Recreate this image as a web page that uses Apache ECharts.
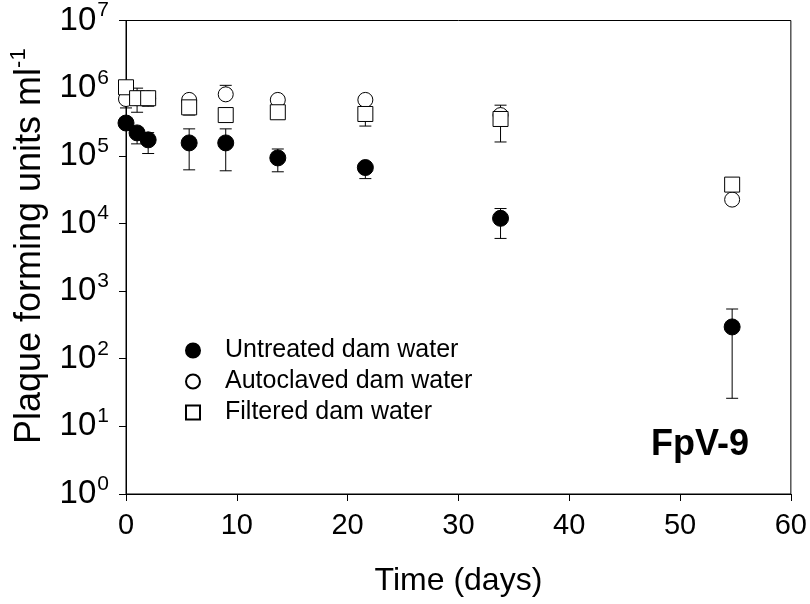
<!DOCTYPE html>
<html><head><meta charset="utf-8">
<script src="https://cdn.jsdelivr.net/npm/echarts@6/dist/echarts.min.js"></script>
<style>html,body{margin:0;padding:0;background:#fff}#c{width:810px;height:604px}</style>
</head><body><div id="c"></div>
<script>
// Data (days, PFU/ml)
const days = [0, 1, 2, 5.7, 9, 13.7, 21.6, 33.8, 54.7];
const untreated     = [3.05e5, 2.18e5, 1.72e5, 1.55e5, 1.55e5, 9.3e4, 6.7e4, 1.19e4, 295];
const untreatedLow  = [null, 1.5e5, 1.08e5, 6.2e4, 6.0e4, 5.8e4, 4.6e4, 6.0e3, 26];
const untreatedHigh = [null, 2.4e5, 2.2e5, 2.5e5, 2.5e5, 1.26e5, 7.5e4, 1.66e4, 543];
const autoclaved     = [6.9e5, 7.1e5, 7.1e5, 6.7e5, 8.1e5, 6.7e5, 6.7e5, 4.0e5, 2.25e4];
const autoclavedLow  = [5.1e5, null, null, null, null, null, null, null, null];
const autoclavedHigh = [null, null, null, null, 1.1e6, null, null, null, null];
const filtered     = [1.03e6, 7.1e5, 7.1e5, 5.2e5, 4.0e5, 4.4e5, 4.15e5, 3.5e5, 3.75e4];
const filteredLow  = [null, 4.4e5, 5.4e5, 4.0e5, null, null, 2.75e5, 1.6e5, null];
const filteredHigh = [null, 1.0e6, null, null, null, null, null, 5.6e5, null];
const seriesNames = ['Untreated dam water', 'Autoclaved dam water', 'Filtered dam water'];
const xTicks = [0, 10, 20, 30, 40, 50, 60];
const panelLabel = 'FpV-9';

const FONT = 'Liberation Sans, Arial, sans-serif';

function pts(vals) { return days.map((d, i) => [d, vals[i]]); }
function errData(vals, low, high) {
  const out = [];
  days.forEach((d, i) => {
    if (low[i] == null && high[i] == null) return;
    out.push([d, low[i] != null ? low[i] : vals[i], high[i] != null ? high[i] : vals[i], low[i] != null ? 1 : 0, high[i] != null ? 1 : 0]);
  });
  return out;
}
function errSeries(vals, low, high) {
  return {
    type: 'custom', z: 1, silent: true,
    encode: { x: 0, y: [1, 2] },
    data: errData(vals, low, high),
    renderItem: function (params, api) {
      const x = api.value(0);
      const lo = api.coord([x, api.value(1)]);
      const hi = api.coord([x, api.value(2)]);
      const w = 6;
      const st = { stroke: '#000', lineWidth: 1 };
      const ch = [{ type: 'line', shape: { x1: lo[0], y1: lo[1], x2: hi[0], y2: hi[1] }, style: st }];
      if (api.value(3)) ch.push({ type: 'line', shape: { x1: lo[0] - w, y1: lo[1], x2: lo[0] + w, y2: lo[1] }, style: st });
      if (api.value(4)) ch.push({ type: 'line', shape: { x1: hi[0] - w, y1: hi[1], x2: hi[0] + w, y2: hi[1] }, style: st });
      return { type: 'group', children: ch };
    }
  };
}

const chart = echarts.init(document.getElementById('c'));
chart.setOption({
  animation: false,
  backgroundColor: '#fff',
  textStyle: { fontFamily: FONT, color: '#000' },
  grid: { left: 124, right: 16, top: 18, bottom: 110, show: true, borderColor: '#000', borderWidth: 1 },
  title: { text: panelLabel, left: 646, top: 422, textStyle: { fontFamily: FONT, fontSize: 36, fontWeight: 'bold', color: '#000' } },
  legend: {
    orient: 'vertical', left: 180, top: 332, itemWidth: 14, itemHeight: 14, itemGap: 4,
    data: seriesNames,
    textStyle: { fontFamily: FONT, fontSize: 25, color: '#000', lineHeight: 27, padding: [0, 0, 0, 20] }
  },
  xAxis: {
    type: 'value', min: 0, max: 60, interval: 10,
    name: 'Time (days)', nameLocation: 'middle', nameGap: 71,
    nameTextStyle: { fontFamily: FONT, fontSize: 32, color: '#000' },
    axisLine: { lineStyle: { color: '#000', width: 1 } },
    axisTick: { show: true, inside: false, length: 7, lineStyle: { color: '#000' } },
    axisLabel: { fontFamily: FONT, fontSize: 29, color: '#000', margin: 17,
      formatter: v => xTicks.includes(v) ? String(v) : '' },
    splitLine: { show: false }
  },
  yAxis: {
    type: 'log', logBase: 10, min: 1, max: 1e7,
    name: 'Plaque forming units ml{s|-1}', nameLocation: 'middle', nameGap: 74, nameRotate: 90,
    nameTextStyle: { fontFamily: FONT, fontSize: 36, color: '#000', padding: [0, 0, 0, 22],
      rich: { s: { fontFamily: FONT, fontSize: 22, color: '#000', padding: [0, 0, 22, 0] } } },
    axisLine: { lineStyle: { color: '#000', width: 1 } },
    axisTick: { show: true, inside: false, length: 7, lineStyle: { color: '#000' } },
    minorTick: { show: false },
    splitLine: { show: false },
    axisLabel: {
      fontFamily: FONT, fontSize: 33, color: '#000', margin: 17,
      formatter: v => '{b|10}{s|' + Math.round(Math.log10(v)) + '}',
      rich: {
        b: { fontFamily: FONT, fontSize: 33, color: '#000' },
        s: { fontFamily: FONT, fontSize: 21, color: '#000', padding: [0, 0, 20, 1] }
      }
    }
  },
  series: [
    errSeries(untreated, untreatedLow, untreatedHigh),
    errSeries(autoclaved, autoclavedLow, autoclavedHigh),
    errSeries(filtered, filteredLow, filteredHigh),
    { name: seriesNames[0], type: 'scatter', z: 2, symbol: 'circle', symbolSize: 16, data: pts(untreated),
      itemStyle: { color: '#000', borderColor: '#000', borderWidth: 1, opacity: 1 } },
    { name: seriesNames[1], type: 'scatter', z: 3, symbol: 'circle', symbolSize: 15, data: pts(autoclaved),
      itemStyle: { color: '#fff', borderColor: '#000', borderWidth: 1, opacity: 1 } },
    { name: seriesNames[2], type: 'scatter', z: 4, symbol: 'rect', symbolSize: 15, data: pts(filtered),
      itemStyle: { color: '#fff', borderColor: '#000', borderWidth: 1, opacity: 1 } }
  ]
});
</script></body></html>
